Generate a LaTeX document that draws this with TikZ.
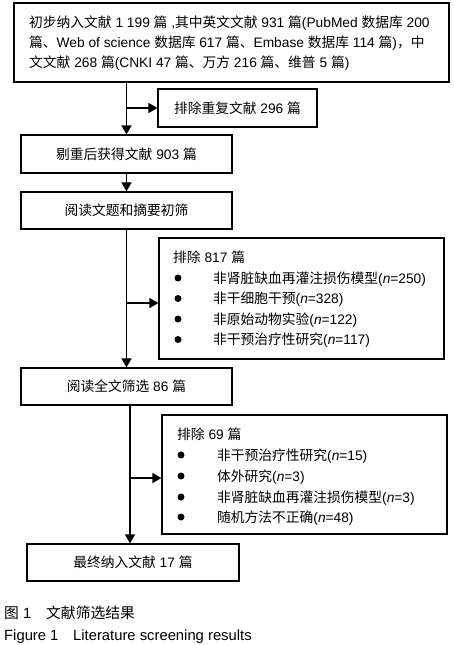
\documentclass[tikz,border=0pt]{standalone}
\usepackage{fontspec}
\setmainfont{Liberation Sans}
\newfontfamily\cjk{Noto Sans CJK SC}
\usetikzlibrary{arrows.meta}
\XeTeXinterchartokenstate=1
\newXeTeXintercharclass\cjkcls
\count255="4E00
\loop \XeTeXcharclass\count255=\cjkcls \advance\count255 by 1 \ifnum\count255<"A000 \repeat
\XeTeXcharclass"3001=\cjkcls
\XeTeXcharclass"FF0C=\cjkcls
\XeTeXinterchartoks 0 \cjkcls={\cjk}
\XeTeXinterchartoks 4095 \cjkcls={\cjk}
\XeTeXinterchartoks \cjkcls 0={\rmfamily}
\XeTeXinterchartoks \cjkcls 4095={\rmfamily}
\begin{document}
\begin{tikzpicture}[x=1pt,y=-1pt,
  font=\fontsize{13.75}{20}\selectfont,
  box/.style={draw, line width=1.2pt, inner sep=0pt},
  arr/.style={line width=1.6pt, -{Triangle[length=9pt,width=10pt]}},
  bul/.style={circle, fill, inner sep=0pt, minimum size=7pt},
  txt/.style={anchor=base west, inner sep=0pt}]
\useasboundingbox (0,0) rectangle (454,645);
% boxes
\node[box, minimum width=435pt, minimum height=79pt] (b1) at (231.5,42.5) {};
\node[anchor=west, align=left, inner sep=0pt] (t1) at (29,43) {初步纳入文献 1 199 篇 ,其中英文文献 931 篇(PubMed 数据库 200\\篇、Web of science 数据库 617 篇、Embase 数据库 114 篇)，中\\文文献 268 篇(CNKI 47 篇、万方 216 篇、维普 5 篇)};
\node[box, minimum width=159pt, minimum height=38pt] (bx) at (237.5,108) {排除重复文献 296 篇};
\node[box, minimum width=211pt, minimum height=38pt] (b2) at (126.5,154) {剔重后获得文献 903 篇};
\node[box, minimum width=211pt, minimum height=37pt] (b3) at (126.5,210.5) {阅读文题和摘要初筛};
\node[box, minimum width=285pt, minimum height=121pt] (b5) at (301.5,298.5) {};
\node[box, minimum width=211pt, minimum height=37pt] (b4) at (126.5,386.5) {阅读全文筛选 86 篇};
\node[box, minimum width=285pt, minimum height=119pt] (b7) at (304.5,474.5) {};
\node[box, minimum width=212pt, minimum height=37pt] (b6) at (133,562.5) {最终纳入文献 17 篇};
% list 1
\node[txt] (l5h) at (173,262) {排除 817 篇};
\node[bul] (p5a) at (178,278) {};
\node[bul] (p5b) at (178,298.5) {};
\node[bul] (p5c) at (178,319) {};
\node[bul] (p5d) at (178,339.5) {};
\node[txt] (l5a) at (213,283) {非肾脏缺血再灌注损伤模型(\textit{n}=250)};
\node[txt] (l5b) at (213,303.5) {非干细胞干预(\textit{n}=328)};
\node[txt] (l5c) at (213,324) {非原始动物实验(\textit{n}=122)};
\node[txt] (l5d) at (213,344.5) {非干预治疗性研究(\textit{n}=117)};
% list 2
\node[txt] (l7h) at (177,439) {排除 69 篇};
\node[bul] (p7a) at (181,455) {};
\node[bul] (p7b) at (181,476) {};
\node[bul] (p7c) at (181,497) {};
\node[bul] (p7d) at (181,517) {};
\node[txt] (l7a) at (217,460) {非干预治疗性研究(\textit{n}=15)};
\node[txt] (l7b) at (217,481) {体外研究(\textit{n}=3)};
\node[txt] (l7c) at (217,502) {非肾脏缺血再灌注损伤模型(\textit{n}=3)};
\node[txt] (l7d) at (217,522) {随机方法不正确(\textit{n}=48)};
% connectors
\draw[arr] (b2.north |- b1.south) -- (b2.north);
\draw[arr] (b2.north |- bx.west) -- (bx.west);
\draw[arr] (b2.south) -- (b3.north);
\draw[arr] (b3.south) -- (b4.north);
\draw[arr] (b3.south |- b5.west) ++(0,4.5) -- ([yshift=-4.5pt]b5.west);
\coordinate (c4) at ([xshift=3.5pt]b4.south);
\draw[arr] (c4) -- (c4 |- b6.north);
\draw[arr] (c4 |- b7.west) ++(0,3.5) -- ([yshift=-3.5pt]b7.west);
% caption
\node[txt, font=\fontsize{14.8}{17}\selectfont] (cap1) at (4,618) {\makebox[42pt][l]{图 1}文献筛选结果};
\node[txt, font=\fontsize{14.8}{17}\selectfont] (cap2) at (4,640) {\makebox[69pt][l]{Figure 1}Literature screening results};
\end{tikzpicture}
\end{document}
